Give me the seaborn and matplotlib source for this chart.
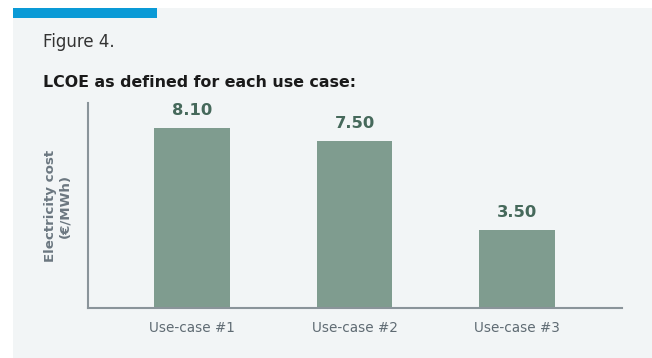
import matplotlib
matplotlib.use("Agg")
import matplotlib.pyplot as plt
import seaborn as sns
import pandas as pd
from matplotlib.patches import Rectangle

categories = ["Use-case #1", "Use-case #2", "Use-case #3"]
values = [8.10, 7.50, 3.50]
value_labels = ["8.10", "7.50", "3.50"]

sns.set_theme(style="white")
plt.rcParams['font.family'] = ['DejaVu Sans']

df = pd.DataFrame({"case": categories, "cost": values})

fig = plt.figure(figsize=(6.52, 3.58), dpi=100)
fig.patch.set_facecolor("white")
W, H = 652, 358
fig.patches.append(Rectangle((13 / W, 0), 1 - 13 / W, 1 - 8 / H, transform=fig.transFigure,
                             facecolor="#F2F5F6", edgecolor="none", zorder=-10))
fig.patches.append(Rectangle((13 / W, 1 - 18 / H), (157 - 13) / W, 10 / H, transform=fig.transFigure,
                             facecolor="#0A9AD6", edgecolor="none", zorder=-9))

ax = fig.add_axes([88 / W, 1 - 308 / H, (622 - 88) / W, (308 - 103) / H])
ax.set_facecolor("none")
sns.barplot(data=df, x="case", y="cost", color="#7F9C8F", saturation=1, width=0.466,
            linewidth=0, ax=ax)
ax.set_xlim(-0.64, 2.645)
ax.set_ylim(0, 9.2)

ax.bar_label(ax.containers[0], labels=value_labels, padding=7, color="#46695B",
             fontsize=11.8, fontweight="bold")

for s in ["top", "right"]:
    ax.spines[s].set_visible(False)
for s in ["left", "bottom"]:
    ax.spines[s].set_color("#8A949A")
    ax.spines[s].set_linewidth(1.5)
ax.set_yticks([])
ax.set_xlabel("")
ax.tick_params(axis="x", length=0, pad=9, labelsize=9.8, labelcolor="#5F6B73")
ax.set_ylabel("Electricity cost\n(€/MWh)", fontsize=9.6, fontweight="bold", color="#6B7780",
              labelpad=12, linespacing=1.1)

fig.text(43 / W, 1 - 47 / H, "Figure 4.", fontsize=12, color="#333333", ha="left", va="baseline")
fig.text(43 / W, 1 - 87 / H, "LCOE as defined for each use case:", fontsize=11.4, fontweight="bold",
         color="#1A1A1A", ha="left", va="baseline")

fig.savefig("out.png", dpi=100, facecolor=fig.get_facecolor())
